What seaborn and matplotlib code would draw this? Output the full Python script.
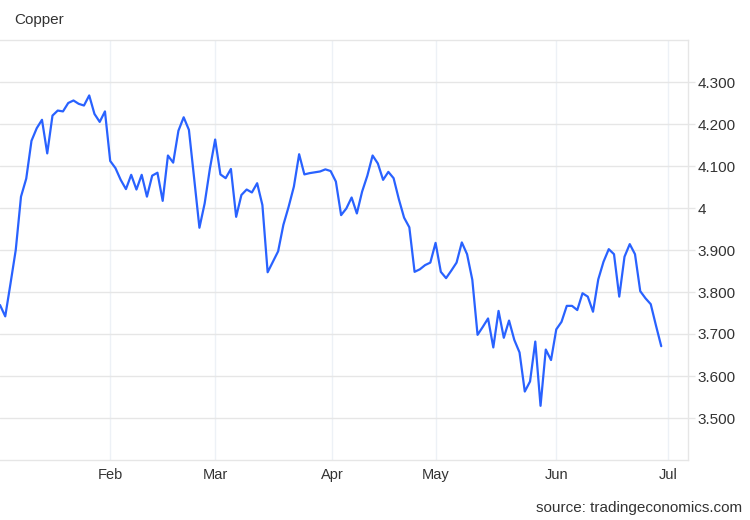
import numpy as np
import pandas as pd
import matplotlib
matplotlib.use("Agg")
import matplotlib.pyplot as plt
import seaborn as sns

# Copper futures, daily close (USD/lb)
prices = [
    3.769, 3.742, 3.820, 3.900, 4.027, 4.070, 4.160, 4.190, 4.210, 4.130,
    4.220, 4.232, 4.230, 4.250, 4.256, 4.248, 4.244, 4.268, 4.224, 4.205,
    4.230, 4.112, 4.095, 4.067, 4.045, 4.079, 4.044, 4.079, 4.027, 4.077,
    4.084, 4.017, 4.125, 4.108, 4.184, 4.216, 4.186, 4.070, 3.953, 4.011,
    4.094, 4.163, 4.080, 4.071, 4.093, 3.979, 4.031, 4.044, 4.037, 4.059,
    4.007, 3.847, 3.872, 3.897, 3.960, 4.003, 4.051, 4.128, 4.080, 4.083,
    4.085, 4.087, 4.092, 4.088, 4.063, 3.983, 3.999, 4.025, 3.987, 4.039,
    4.077, 4.125, 4.106, 4.067, 4.086, 4.071, 4.021, 3.977, 3.954, 3.848,
    3.854, 3.864, 3.870, 3.917, 3.848, 3.833, 3.851, 3.870, 3.918, 3.890,
    3.829, 3.698, 3.717, 3.737, 3.668, 3.755, 3.691, 3.732, 3.686, 3.656,
    3.563, 3.587, 3.682, 3.529, 3.663, 3.638, 3.711, 3.729, 3.767, 3.767,
    3.757, 3.797, 3.789, 3.753, 3.830, 3.872, 3.902, 3.890, 3.789, 3.884,
    3.914, 3.890, 3.802, 3.785, 3.771, 3.720, 3.671,
]

month_labels = ["Feb", "Mar", "Apr", "May", "Jun", "Jul"]
month_starts = ["2023-02-01", "2023-03-01", "2023-04-01",
                "2023-05-01", "2023-06-01", "2023-07-01"]
y_ticks = [3.5, 3.6, 3.7, 3.8, 3.9, 4.0, 4.1, 4.2, 4.3]

sns.set_theme(style="white")
plt.rcParams["font.family"] = ["Liberation Sans", "DejaVu Sans"]

# trading calendar (weekdays, exchange closed on Good Friday)
calendar = pd.bdate_range("2023-01-03", "2023-07-07")
calendar = calendar[calendar != pd.Timestamp("2023-04-07")]

df = pd.DataFrame({"date": calendar[:len(prices)], "price": prices})
df["day"] = np.arange(len(df))

# month gridlines sit where the month starts on the trading-day scale
cal_ns = calendar.values.astype("int64")
month_ns = pd.to_datetime(month_starts).values.astype("int64")
month_pos = np.interp(month_ns, cal_ns, np.arange(len(calendar)))

fig = plt.figure(figsize=(7.5, 5.2), dpi=100)
ax = fig.add_axes([0, 60 / 520, 688 / 750, 420 / 520])

sns.lineplot(data=df, x="day", y="price", ax=ax, color="#2962ff", linewidth=1.6)

ax.set_xlim(0, 131.1)
ax.set_ylim(3.4, 4.4)

ax.set_xticks(month_pos, month_labels)
ax.set_yticks(y_ticks)
ax.set_yticklabels(["4" if abs(v - round(v)) < 1e-9 else f"{v:.3f}" for v in y_ticks])
ax.yaxis.tick_right()

ax.grid(axis="y", color="#e6e6e6", linewidth=1)
ax.grid(axis="x", color="#edf1f6", linewidth=1)
ax.tick_params(axis="x", length=0, pad=6, labelsize=10.5, labelcolor="#333333")
ax.tick_params(axis="y", length=5, width=1, color="#e6e6e6", pad=2,
               labelsize=11, labelcolor="#333333")

for side in ["top", "bottom", "right"]:
    ax.spines[side].set_color("#e6e6e6")
    ax.spines[side].set_linewidth(1)
ax.spines["left"].set_visible(False)

ax.set_xlabel("")
ax.set_ylabel("")

fig.text(14 / 750, 1 - 20 / 520, "Copper", fontsize=11, color="#333333", va="center")
fig.text(742 / 750, 1 - 508 / 520, "source: tradingeconomics.com",
         fontsize=11, color="#333333", ha="right", va="center")

fig.savefig("out.png", dpi=100)
plt.close(fig)
